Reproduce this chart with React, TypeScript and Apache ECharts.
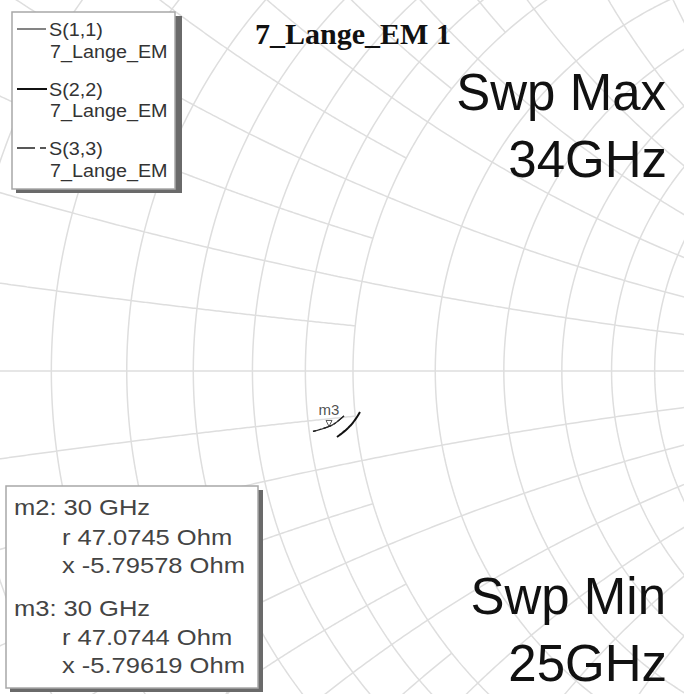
import React, { useEffect, useRef } from "react";
import * as echarts from "echarts";

// ---------------- data ----------------
const freqsGHz = [25, 26, 27, 28, 29, 30, 31, 32, 33, 34];
// reflection coefficients (real / imaginary part of Gamma)
const s11Re = [-0.0099, -0.0132, -0.0165, -0.0198, -0.0231, -0.0265, -0.0307, -0.0350, -0.0395, -0.0442];
const s11Im = [-0.0497, -0.0526, -0.0553, -0.0578, -0.0598, -0.0613, -0.0629, -0.0643, -0.0656, -0.0668];
const s22Re = [0.0077, 0.0051, 0.0024, -0.0004, -0.0032, -0.0060, -0.0089, -0.0118, -0.0147, -0.0177];
const s22Im = [-0.0453, -0.0497, -0.0537, -0.0575, -0.0607, -0.0635, -0.0661, -0.0685, -0.0707, -0.0729];
const s33Re = [-0.0100, -0.0133, -0.0166, -0.0199, -0.0232, -0.0265, -0.0308, -0.0351, -0.0396, -0.0443];
const s33Im = [-0.0496, -0.0525, -0.0552, -0.0577, -0.0598, -0.0613, -0.0628, -0.0642, -0.0655, -0.0667];

const traceNames = ["S(1,1)", "S(2,2)", "S(3,3)"];
const docName = "7_Lange_EM";
const chartTitle = "7_Lange_EM 1";

const markerNames = ["m2", "m3"];
const markerFreqs = [30, 30];
const markerR = [47.0745, 47.0744];
const markerX = [-5.79578, -5.79619];

// Smith chart grid values
const resistanceValues = [0.1, 0.2, 0.3, 0.4, 0.5, 0.6, 0.7, 0.8, 0.9, 1.0, 1.2, 1.4, 1.6, 1.8, 2.0, 3, 4, 5, 10];
const fineReactance = [0.1, 0.3, 0.5, 0.7, 0.9];
const coarseReactance = [0.2, 0.4, 0.6, 0.8, 1.0, 1.2, 1.4, 1.6, 1.8, 2.0, 3, 4, 5, 10];

// ---------------- layout ----------------
const W = 684;
const H = 694;
const CX = 353; // pixel of Gamma = 0
const CY = 371;
const SCALE = 905; // pixels per unit of Gamma

const gamma = (r: number, x: number): [number, number] => {
  const d = (r + 1) * (r + 1) + x * x;
  return [(r * r - 1 + x * x) / d, (2 * x) / d];
};

const rCircle = (r: number) => {
  const c = r / (1 + r);
  const rad = 1 / (1 + r);
  const pts: number[][] = [];
  for (let i = 0; i <= 720; i++) {
    const t = (i / 720) * Math.PI * 2;
    pts.push([c + rad * Math.cos(t), rad * Math.sin(t)]);
  }
  return pts;
};

const xArc = (x: number, rMax: number) => {
  const pts: number[][] = [];
  const phiMax = isFinite(rMax) ? Math.atan(rMax) : Math.PI / 2 - 1e-4;
  for (let i = 0; i <= 400; i++) {
    const r = Math.tan((i / 400) * phiMax);
    pts.push(gamma(r, x));
  }
  return pts;
};

const gridStyle = { color: "#dedede", width: 1.5 };

export default function App() {
  const ref = useRef<HTMLDivElement>(null);

  useEffect(() => {
    if (!ref.current) return;
    const chart = echarts.init(ref.current, undefined, { renderer: "svg" });

    const gridSeries: any[] = [];
    const addGrid = (data: number[][]) =>
      gridSeries.push({
        type: "line",
        data,
        showSymbol: false,
        silent: true,
        smooth: false,
        lineStyle: gridStyle,
        z: 1,
      });
    resistanceValues.forEach((r) => addGrid(rCircle(r)));
    fineReactance.forEach((x) => {
      addGrid(xArc(x, 1));
      addGrid(xArc(-x, 1));
    });
    coarseReactance.forEach((x) => {
      addGrid(xArc(x, Infinity));
      addGrid(xArc(-x, Infinity));
    });
    addGrid([
      [-1, 0],
      [1, 0],
    ]);

    const trace = (re: number[], im: number[]) => re.map((v, i) => [v, im[i]]);
    const mIdx = freqsGHz.indexOf(markerFreqs[1]);

    const traceSeries: any[] = [
      {
        name: traceNames[0],
        type: "line",
        data: trace(s11Re, s11Im),
        showSymbol: false,
        smooth: true,
        lineStyle: { color: "#333", width: 1.2 },
        z: 5,
      },
      {
        name: traceNames[1],
        type: "line",
        data: trace(s22Re, s22Im),
        showSymbol: false,
        smooth: true,
        lineStyle: { color: "#111", width: 2 },
        z: 5,
      },
      {
        name: traceNames[2],
        type: "line",
        data: trace(s33Re, s33Im),
        showSymbol: false,
        smooth: true,
        lineStyle: { color: "#222", width: 1.2, type: [8, 3, 2, 3] },
        z: 6,
      },
      {
        type: "scatter",
        data: [[s33Re[mIdx], s33Im[mIdx]]],
        symbol: "triangle",
        symbolRotate: 180,
        symbolSize: 6,
        symbolOffset: [0, -3],
        itemStyle: { color: "none", borderColor: "#333", borderWidth: 1 },
        label: {
          show: true,
          formatter: markerNames[1],
          position: "top",
          distance: 1,
          color: "#222",
          fontSize: 15,
          fontFamily: "Liberation Sans, Arial, sans-serif",
        },
        z: 7,
      },
    ];

    const legendFont = "17.5px 'Liberation Sans', Arial, sans-serif";
    const boxFont = "22px 'Liberation Sans', Arial, sans-serif";
    const bigFont = "51px 'Liberation Sans', Arial, sans-serif";
    const Z = 100;
    const txt = (text: string, x: number, y: number, font: string, fill: string, align = "left", sx = 1) => ({
      type: "text",
      z: Z + 2,
      x,
      y,
      scaleX: sx,
      style: { text, font, fill, textAlign: align, textVerticalAlign: "middle" },
    });

    const markerLines: string[] = [];
    markerNames.forEach((m, i) => {
      markerLines.push(`${m}: ${markerFreqs[i]} GHz`);
      markerLines.push(`r ${markerR[i]} Ohm`);
      markerLines.push(`x ${markerX[i]} Ohm`);
    });
    const markerYs = [507, 537, 565, 608, 637, 665];
    const LSX = 1.13;
    const BSX = 1.16;

    const graphic: any[] = [
      // legend box
      { type: "rect", z: Z, shape: { x: 16, y: 16, width: 166, height: 177 }, style: { fill: "#6a6a6a" } },
      { type: "rect", z: Z + 1, shape: { x: 12, y: 12, width: 163, height: 177 }, style: { fill: "#fff", stroke: "#a8a8a8", lineWidth: 1.5 } },
      { type: "line", z: Z + 2, shape: { x1: 17, y1: 29, x2: 46, y2: 29 }, style: { stroke: "#333", lineWidth: 1.2 } },
      { type: "line", z: Z + 2, shape: { x1: 17, y1: 89, x2: 47, y2: 89 }, style: { stroke: "#111", lineWidth: 2 } },
      { type: "line", z: Z + 2, shape: { x1: 17, y1: 148, x2: 47, y2: 148 }, style: { stroke: "#222", lineWidth: 1.5, lineDash: [18, 5, 6, 5] } },
      txt(traceNames[0], 49, 30, legendFont, "#333", "left", LSX),
      txt(docName, 50, 52, legendFont, "#333", "left", LSX),
      txt(traceNames[1], 49, 90, legendFont, "#333", "left", LSX),
      txt(docName, 50, 111, legendFont, "#333", "left", LSX),
      txt(traceNames[2], 49, 149, legendFont, "#333", "left", LSX),
      txt(docName, 50, 171, legendFont, "#333", "left", LSX),
      // title
      txt(chartTitle, 353, 33, "bold 30px 'Liberation Serif', 'Times New Roman', serif", "#111", "center"),
      // sweep texts
      txt("Swp Max", 666, 92, bigFont, "#111", "right"),
      txt(`${freqsGHz[freqsGHz.length - 1]}GHz`, 667, 159, bigFont, "#111", "right"),
      txt("Swp Min", 666, 596, bigFont, "#111", "right"),
      txt(`${freqsGHz[0]}GHz`, 667, 663, bigFont, "#111", "right"),
      // marker box
      { type: "rect", z: Z, shape: { x: 10, y: 490, width: 253, height: 202 }, style: { fill: "#6a6a6a" } },
      { type: "rect", z: Z + 1, shape: { x: 6, y: 486, width: 252, height: 202 }, style: { fill: "#fff", stroke: "#a8a8a8", lineWidth: 1.5 } },
      ...markerLines.map((t, i) => txt(t, i % 3 === 0 ? 14 : 62, markerYs[i], boxFont, "#444", "left", BSX)),
    ];

    chart.setOption({
      animation: false,
      backgroundColor: "#fff",
      grid: { left: 0, right: 0, top: 0, bottom: 0 },
      xAxis: { type: "value", min: -CX / SCALE, max: (W - CX) / SCALE, show: false },
      yAxis: { type: "value", min: -(H - CY) / SCALE, max: CY / SCALE, show: false },
      series: [...gridSeries, ...traceSeries],
      graphic,
    });

    return () => chart.dispose();
  }, []);

  return (
    <div
      ref={ref}
      style={{ position: "absolute", left: 0, top: 0, width: W, height: H, background: "#fff" }}
    />
  );
}
